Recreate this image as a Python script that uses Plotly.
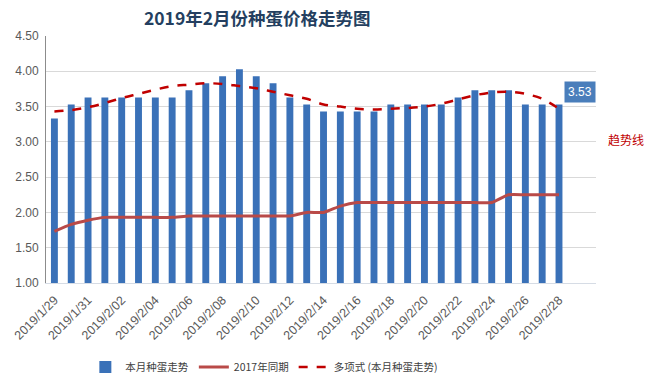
import plotly.graph_objects as go

categories = ["2019/1/29", "2019/1/30", "2019/1/31",
              "2019/2/01", "2019/2/02", "2019/2/03", "2019/2/04", "2019/2/05", "2019/2/06", "2019/2/07",
              "2019/2/08", "2019/2/09", "2019/2/10", "2019/2/11", "2019/2/12", "2019/2/13", "2019/2/14",
              "2019/2/15", "2019/2/16", "2019/2/17", "2019/2/18", "2019/2/19", "2019/2/20", "2019/2/21",
              "2019/2/22", "2019/2/23", "2019/2/24", "2019/2/25", "2019/2/26", "2019/2/27", "2019/2/28"]

price_2019 = [3.33, 3.53, 3.63, 3.63, 3.63, 3.63, 3.63, 3.63, 3.73, 3.83,
              3.93, 4.03, 3.93, 3.83, 3.63, 3.53, 3.43, 3.43, 3.43, 3.43,
              3.53, 3.53, 3.53, 3.53, 3.63, 3.73, 3.73, 3.73, 3.53, 3.53, 3.53]

price_2017 = [1.73, 1.83, 1.89, 1.93, 1.93, 1.93, 1.93, 1.93, 1.95, 1.95,
              1.95, 1.95, 1.95, 1.95, 1.95, 2.00, 2.00, 2.09, 2.14, 2.14,
              2.14, 2.14, 2.14, 2.14, 2.14, 2.14, 2.14, 2.25, 2.25, 2.25, 2.25]

trend_2019 = [3.43, 3.45, 3.49, 3.55, 3.62, 3.68, 3.74, 3.79, 3.81, 3.83,
              3.82, 3.79, 3.76, 3.71, 3.66, 3.61, 3.53, 3.50, 3.47, 3.46,
              3.47, 3.48, 3.50, 3.54, 3.60, 3.66, 3.70, 3.71, 3.68, 3.61, 3.47]

y_ticks = [1.00, 1.50, 2.00, 2.50, 3.00, 3.50, 4.00, 4.50]

name_bar = "本月种蛋走势"
name_2017 = "2017年同期"
name_trend = "多项式 (本月种蛋走势)"
title_text = "2019年2月份种蛋价格走势图"
trend_label = "趋势线"

FONT = "Liberation Sans, Noto Sans CJK SC, sans-serif"

fig = go.Figure()
fig.add_trace(go.Bar(x=categories, y=price_2019, name=name_bar,
                     marker=dict(color="#3A71B8", line=dict(width=0))))
fig.add_trace(go.Scatter(x=categories, y=price_2017, name=name_2017, mode="lines",
                         line=dict(color="#B94A48", width=3, shape="spline", smoothing=0.6)))
fig.add_trace(go.Scatter(x=categories, y=trend_2019, name=name_trend, mode="lines",
                         line=dict(color="#C00000", width=2.5, dash="dash", shape="spline")))

fig.add_annotation(x=categories[-1], y=price_2019[-1], xref="x", yref="y",
                   text=f"{price_2019[-1]:.2f}", showarrow=False,
                   xshift=21, yshift=12, bgcolor="#4A7EBB", borderpad=3,
                   font=dict(color="white", size=12, family=FONT))
fig.add_annotation(x=1.0, y=3.04, xref="paper", yref="y", xanchor="right",
                   text=trend_label, showarrow=False, xshift=50,
                   font=dict(color="#C00000", size=12, family="Noto Sans CJK SC"))

fig.update_layout(
    width=648, height=385,
    margin=dict(l=46, r=52, t=36, b=102, autoexpand=False),
    paper_bgcolor="white", plot_bgcolor="white",
    bargap=0.59,
    title=dict(text=f"<b>{title_text}</b>", x=0.397, xanchor="center", y=0.952, yanchor="middle",
               font=dict(size=17.5, color="#243F60", family="Noto Sans CJK SC")),
    font=dict(family=FONT, color="#595959", size=11),
    showlegend=True,
    legend=dict(orientation="h", x=0.397, xanchor="center", y=-0.34, yanchor="middle",
                font=dict(size=10.5, color="#404040", family="Noto Sans CJK SC"),
                itemwidth=30, tracegroupgap=0),
    xaxis=dict(type="category", tickvals=categories[::2], ticktext=categories[::2],
               tickangle=-45, showgrid=False, showline=True, linecolor="#D6DCE5",
               linewidth=1, ticks="outside", ticklen=4, tickcolor="rgba(0,0,0,0)",
               automargin=False,
               tickfont=dict(size=12.5, color="#595959")),
    yaxis=dict(range=[1.0, 4.5], tickvals=y_ticks, tickformat=".2f",
               showgrid=True, gridcolor="#D9D9D9", gridwidth=1,
               showline=True, linecolor="#8C8C8C", linewidth=1, ticks="",
               ticklabelstandoff=4,
               automargin=False,
               zeroline=False, tickfont=dict(size=12, color="#595959")),
)

fig.write_html("out.html", config={"displayModeBar": False},
               post_script="document.body.style.margin='0px';document.body.style.overflow='hidden';")
